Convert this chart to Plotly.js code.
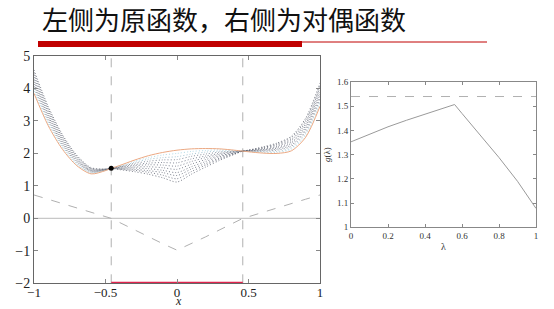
<!DOCTYPE html>
<html><head><meta charset="utf-8">
<script src="https://cdn.plot.ly/plotly-3.0.1.min.js"></script>
<style>html,body{margin:0;padding:0;background:#fff;}#c{width:554px;height:309px;}</style>
</head><body><div id="c"></div>
<script>
// ---- data ----
const xs = [-1,-0.9,-0.8,-0.7,-0.6,-0.5,-0.46,-0.4,-0.3,-0.2,-0.1,0,0.1,0.2,0.3,0.4,0.46,0.5,0.6,0.7,0.8,0.9,1];
const f0 = [3.85,2.85,2.12,1.62,1.37,1.47,1.54,1.63,1.79,1.93,2.03,2.10,2.14,2.15,2.14,2.10,2.07,2.05,2.01,2.00,2.08,2.50,3.45];
const f1 = [0.72,0.59,0.45,0.32,0.19,0.05,0,-0.13,-0.35,-0.57,-0.78,-0.98,-0.78,-0.57,-0.35,-0.13,0,0.05,0.19,0.32,0.45,0.59,0.72];
const L01 = [3.92,2.91,2.17,1.65,1.39,1.48,1.54,1.62,1.76,1.87,1.95,2.00,2.06,2.09,2.11,2.09,2.07,2.06,2.03,2.03,2.13,2.56,3.52];
const L02 = [3.99,2.97,2.21,1.68,1.41,1.48,1.54,1.60,1.72,1.82,1.87,1.90,1.98,2.04,2.07,2.07,2.07,2.06,2.05,2.06,2.17,2.62,3.59];
const L03 = [4.07,3.03,2.26,1.72,1.43,1.49,1.54,1.59,1.69,1.76,1.80,1.81,1.91,1.98,2.04,2.06,2.07,2.07,2.07,2.10,2.22,2.68,3.67];
const L04 = [4.14,3.09,2.30,1.75,1.45,1.49,1.54,1.58,1.65,1.70,1.72,1.71,1.83,1.92,2.00,2.05,2.07,2.07,2.09,2.13,2.26,2.74,3.74];
const L05 = [4.21,3.15,2.35,1.78,1.47,1.50,1.54,1.57,1.62,1.65,1.64,1.61,1.75,1.87,1.97,2.04,2.07,2.08,2.11,2.16,2.31,2.80,3.81];
const L06 = [4.28,3.20,2.39,1.81,1.48,1.50,1.54,1.55,1.58,1.59,1.56,1.51,1.67,1.81,1.93,2.02,2.07,2.08,2.12,2.19,2.35,2.85,3.88];
const L07 = [4.35,3.26,2.44,1.84,1.50,1.51,1.54,1.54,1.55,1.53,1.48,1.41,1.59,1.75,1.90,2.01,2.07,2.09,2.14,2.22,2.40,2.91,3.95];
const L08 = [4.43,3.32,2.48,1.88,1.52,1.51,1.54,1.53,1.51,1.47,1.41,1.32,1.52,1.69,1.86,2.00,2.07,2.09,2.16,2.26,2.44,2.97,4.03];
const L09 = [4.50,3.38,2.53,1.91,1.54,1.52,1.54,1.51,1.48,1.42,1.33,1.22,1.44,1.64,1.83,1.98,2.07,2.10,2.18,2.29,2.49,3.03,4.10];
const L10 = [4.57,3.44,2.57,1.94,1.56,1.52,1.54,1.50,1.44,1.36,1.25,1.12,1.36,1.58,1.79,1.97,2.07,2.10,2.20,2.32,2.53,3.09,4.17];
const xStar = [-0.46];
const pStar = [1.54];
const feasX = [-0.46, 0.46];
const lam  = [0,0.1,0.2,0.3,0.4,0.5,0.56,0.6,0.7,0.8,0.9,1.0];
const gLam = [1.353,1.385,1.415,1.442,1.466,1.492,1.507,1.47,1.38,1.288,1.19,1.078];
const xTickVals = [-1,-0.5,0,0.5,1];
const xTickText = ['−1','−0.5','0','0.5','1'];
const yTickVals = [-2,-1,0,1,2,3,4,5];

// ---- traces ----
const lCurves = [L01,L02,L03,L04,L05,L06,L07,L08,L09,L10];
const lColors = ['#9fd0e0','#90b8c8','#707888','#6a7080','#6a7080','#656b7a','#656b7a','#606674','#5a606e','#555b68'];
const traces = [];
const yR = [-2, 5];
feasX.forEach(v => traces.push({x:[v,v], y:yR, mode:'lines', line:{color:'#b0b0b0', width:1, dash:'dash'}, xaxis:'x', yaxis:'y'}));
traces.push({x:[xs[0], xs[xs.length-1]], y:[0,0], mode:'lines', line:{color:'#c8c8c8', width:1.2}, xaxis:'x', yaxis:'y'});
traces.push({x:xs, y:f1, mode:'lines', line:{color:'#b0b0b0', width:1, dash:'dash'}, xaxis:'x', yaxis:'y'});
lCurves.forEach((c,i) => traces.push({x:xs, y:c, mode:'lines', line:{color:lColors[i], width:0.8, dash:'1px,2px', shape:'spline', smoothing:0.8}, xaxis:'x', yaxis:'y'}));
traces.push({x:xs, y:f0, mode:'lines', line:{color:'#eba882', width:1, shape:'spline', smoothing:0.8}, xaxis:'x', yaxis:'y'});
traces.push({x:feasX, y:[yR[0], yR[0]], mode:'lines', line:{color:'#e0244e', width:3}, xaxis:'x', yaxis:'y'});
traces.push({x:xStar, y:pStar, mode:'markers', marker:{color:'#000', size:5}, xaxis:'x', yaxis:'y'});
traces.push({x:lam, y:gLam, mode:'lines', line:{color:'#9a9a9a', width:1}, xaxis:'x2', yaxis:'y2'});
traces.push({x:[0,1], y:[pStar[0], pStar[0]], mode:'lines', line:{color:'#b0b0b0', width:1, dash:'dash'}, xaxis:'x2', yaxis:'y2'});

const serif = 'Liberation Serif, DejaVu Serif, serif';
const axBase = {showgrid:false, zeroline:false, showline:true, linecolor:'#666', linewidth:1, mirror:'ticks', ticks:'inside', ticklen:4, tickcolor:'#888', fixedrange:true};

const layout = {
  width:554, height:309, margin:{l:0,r:0,t:0,b:0}, paper_bgcolor:'#fff', plot_bgcolor:'#fff', showlegend:false,
  title:{text:'左侧为原函数，右侧为对偶函数', font:{family:'Noto Sans CJK SC', size:26, color:'#111'}, xref:'container', yref:'container', x:42/554, xanchor:'left', y:1-21/309, yanchor:'middle'},
  xaxis: Object.assign({}, axBase, {domain:[34/554, 320/554], range:[-1,1], tickvals:xTickVals, ticktext:xTickText, tickfont:{family:serif, size:13, color:'#222'}, ticklabelstandoff:-3, anchor:'y'}),
  yaxis: Object.assign({}, axBase, {domain:[1-283.3/309, 1-56/309], range:yR, tickvals:yTickVals, tickfont:{family:serif, size:14, color:'#222'}, anchor:'x'}),
  xaxis2: Object.assign({}, axBase, {domain:[351/554, 536/554], range:[0,1], dtick:0.2, tick0:0, ticklen:3, tickfont:{family:serif, size:9, color:'#333'}, title:{text:'λ', font:{family:serif, size:10, color:'#333'}, standoff:2}, anchor:'y2', linecolor:'#888'}),
  yaxis2: Object.assign({}, axBase, {domain:[1-227.3/309, 1-82/309], range:[1,1.6], dtick:0.1, tick0:1, ticklen:3, tickfont:{family:serif, size:9, color:'#333'}, title:{text:'<i>g</i>(λ)', font:{family:serif, size:9, color:'#333'}, standoff:4}, anchor:'x2', linecolor:'#888'}),
  annotations:[
    {text:'<i>x</i>', xref:'paper', yref:'paper', x:178/554, y:1-301/309, xanchor:'center', yanchor:'middle', showarrow:false, font:{family:serif, size:12, color:'#222'}}
  ],
  shapes:[
    {type:'rect', xref:'paper', yref:'paper', x0:38/554, x1:302/554, y0:1-47/309, y1:1-41/309, fillcolor:'#c00000', line:{width:0}},
    {type:'line', xref:'paper', yref:'paper', x0:302/554, x1:487/554, y0:1-42/309, y1:1-42/309, line:{color:'#c00000', width:1}}
  ]
};
Plotly.newPlot('c', traces, layout, {staticPlot:true, displayModeBar:false});
</script></body></html>
